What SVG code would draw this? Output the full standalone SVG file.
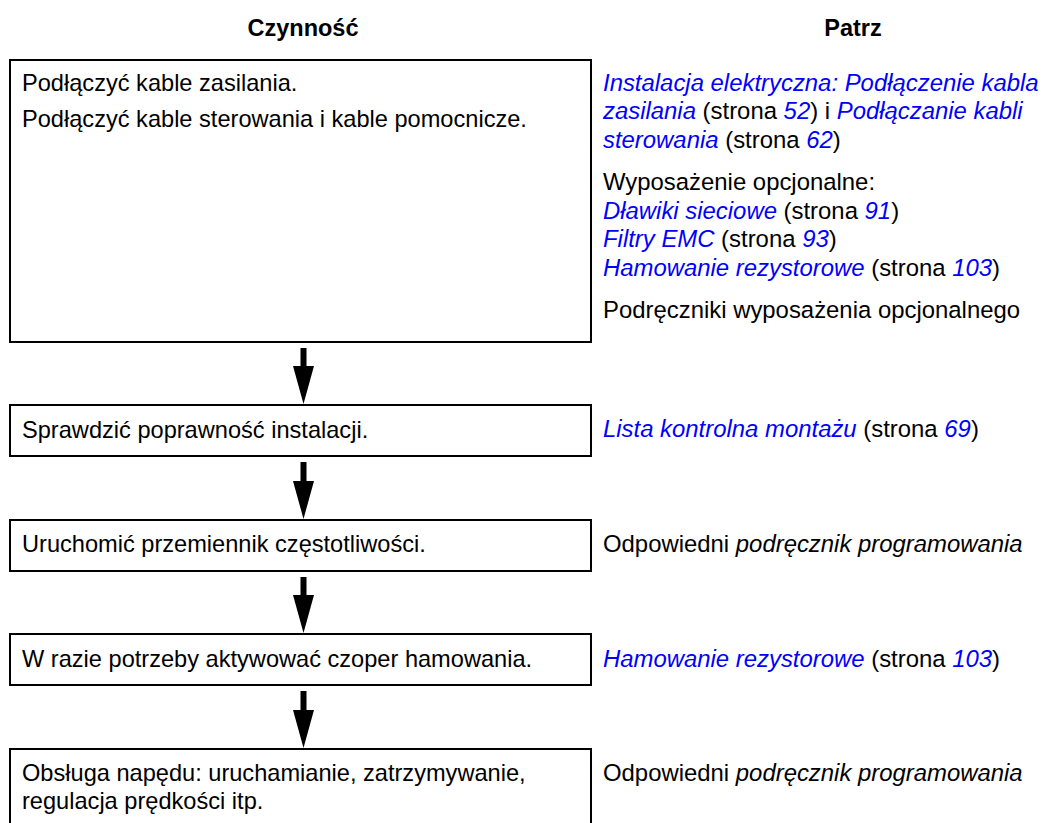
<svg xmlns="http://www.w3.org/2000/svg" width="1044" height="823" viewBox="0 0 1044 823">
<style>
.box{fill:#fff;stroke:#000;stroke-width:2}
.t{font-family:"Liberation Sans",Arial,sans-serif;font-size:23.9px;fill:#000}
.tl{font-family:"Liberation Sans",Arial,sans-serif;font-size:23.6px;fill:#000}
.h{font-family:"Liberation Sans",Arial,sans-serif;font-size:23.5px;font-weight:bold;fill:#000;text-anchor:middle}
.l{fill:#0000ff;font-style:italic}
.i{font-style:italic}
.arr{fill:#000}
</style>
<rect width="1044" height="823" fill="#fff"/>
<text class="h" x="303" y="36">Czynność</text>
<text class="h" x="853" y="36">Patrz</text>
<g id="n1">
<rect class="box" x="10" y="60" width="581" height="282"/>
<text class="tl" x="22" y="91">Podłączyć kable zasilania.</text>
<text class="tl" x="22" y="127">Podłączyć kable sterowania i kable pomocnicze.</text>
</g>
<g id="r1">
<text class="t" x="603" y="91"><tspan class="l">Instalacja elektryczna: Podłączenie kabla</tspan></text>
<text class="t" x="603" y="119"><tspan class="l">zasilania</tspan> (strona <tspan class="l">52</tspan>) i <tspan class="l">Podłączanie kabli</tspan></text>
<text class="t" x="603" y="148"><tspan class="l">sterowania</tspan> (strona <tspan class="l">62</tspan>)</text>
<text class="t" x="603" y="190">Wyposażenie opcjonalne:</text>
<text class="t" x="603" y="219"><tspan class="l">Dławiki sieciowe</tspan> (strona <tspan class="l">91</tspan>)</text>
<text class="t" x="603" y="247"><tspan class="l">Filtry EMC</tspan> (strona <tspan class="l">93</tspan>)</text>
<text class="t" x="603" y="276"><tspan class="l">Hamowanie rezystorowe</tspan> (strona <tspan class="l">103</tspan>)</text>
<text class="t" x="603" y="318">Podręczniki wyposażenia opcjonalnego</text>
</g>
<g id="n2">
<rect class="box" x="10" y="405" width="581" height="51"/>
<text class="tl" x="22" y="438">Sprawdzić poprawność instalacji.</text>
</g>
<g id="r2">
<text class="t" x="603" y="437"><tspan class="l">Lista kontrolna montażu</tspan> (strona <tspan class="l">69</tspan>)</text>
</g>
<g id="n3">
<rect class="box" x="10" y="520" width="581" height="51"/>
<text class="tl" x="22" y="552">Uruchomić przemiennik częstotliwości.</text>
</g>
<g id="r3">
<text class="t" x="603" y="552">Odpowiedni <tspan class="i">podręcznik programowania</tspan></text>
</g>
<g id="n4">
<rect class="box" x="10" y="634" width="581" height="51"/>
<text class="tl" x="22" y="667">W razie potrzeby aktywować czoper hamowania.</text>
</g>
<g id="r4">
<text class="t" x="603" y="667"><tspan class="l">Hamowanie rezystorowe</tspan> (strona <tspan class="l">103</tspan>)</text>
</g>
<g id="n5">
<rect class="box" x="10" y="749" width="581" height="90"/>
<text class="tl" x="22" y="781">Obsługa napędu: uruchamianie, zatrzymywanie,</text>
<text class="tl" x="22" y="809">regulacja prędkości itp.</text>
</g>
<g id="r5">
<text class="t" x="603" y="781">Odpowiedni <tspan class="i">podręcznik programowania</tspan></text>
</g>
<g id="connectors">
<path class="arr" d="M300.5 348H306.5V366H314L303.5 404L293 366H300.5Z"/>
<path class="arr" d="M300.5 462H306.5V481H314L303.5 519L293 481H300.5Z"/>
<path class="arr" d="M300.5 577H306.5V595H314L303.5 633L293 595H300.5Z"/>
<path class="arr" d="M300.5 691H306.5V710H314L303.5 748L293 710H300.5Z"/>
</g>
</svg>
